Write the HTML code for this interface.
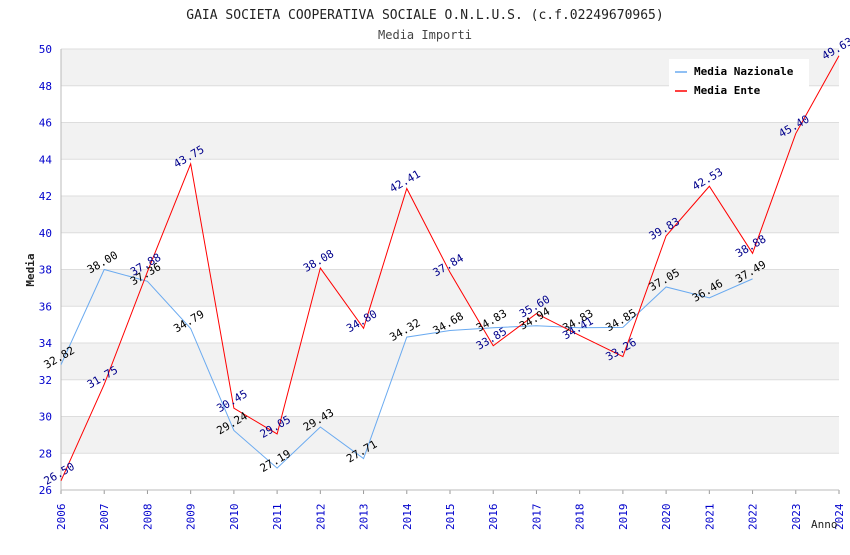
<!DOCTYPE html>
<html><head><meta charset="utf-8"><style>
body{margin:0;background:#fff}
svg text{font-family:"DejaVu Sans Mono","Liberation Mono",monospace}
</style></head><body>
<svg id="chart" width="850" height="550" xmlns="http://www.w3.org/2000/svg">
<text x="425" y="19" text-anchor="middle" font-size="13" fill="#222">GAIA SOCIETA COOPERATIVA SOCIALE O.N.L.U.S. (c.f.02249670965)</text>
<text x="425" y="39" text-anchor="middle" font-size="12" fill="#444">Media Importi</text>
<g id="bands"></g><g id="grid"></g><g id="axes"></g><g id="series"></g><g id="labels"></g>
<text transform="translate(34,270) rotate(-90)" text-anchor="middle" font-size="11" font-weight="bold" fill="#222">Media</text>
<text x="811" y="528" font-size="11" fill="#222">Anno</text>
<g>
<rect x="669" y="59" width="140" height="42" fill="#fff"/>
<line x1="675" y1="72" x2="687" y2="72" stroke="#6aaaf0" stroke-width="1.5"/>
<text x="694" y="75" font-size="11" font-weight="bold" fill="#000">Media Nazionale</text>
<line x1="675" y1="91" x2="687" y2="91" stroke="#ff0000" stroke-width="1.5"/>
<text x="694" y="94" font-size="11" font-weight="bold" fill="#000">Media Ente</text>
</g>
</svg>
<script>
const years=[2006,2007,2008,2009,2010,2011,2012,2013,2014,2015,2016,2017,2018,2019,2020,2021,2022,2023,2024];
const nazionale=[32.82,38.00,37.36,34.79,29.24,27.19,29.43,27.71,34.32,34.68,34.83,34.94,34.83,34.85,37.05,36.46,37.49];
const ente=[26.50,31.75,37.88,43.75,30.45,29.05,38.08,34.80,42.41,37.84,33.85,35.60,34.41,33.26,39.83,42.53,38.88,45.40,49.63];
const yTicks=[26,28,30,32,34,36,38,40,42,44,46,48,50];
const X0=61,X1=839,Y0=490,Y1=49;
const xs=y=>X0+(y-years[0])/(years[years.length-1]-years[0])*(X1-X0);
const ys=v=>Y0-(v-26)/(50-26)*(Y0-Y1);
const NS="http://www.w3.org/2000/svg";
function mk(p,t,a){const e=document.createElementNS(NS,t);for(const k in a)e.setAttribute(k,a[k]);document.getElementById(p).appendChild(e);return e;}
for(let i=0;i<yTicks.length-1;i++){
 if(yTicks[i]%4===0){const r=mk('bands','rect',{x:X0,y:ys(yTicks[i+1]),width:X1-X0,height:ys(yTicks[i])-ys(yTicks[i+1]),fill:'#f2f2f2'});
 
 }
}
yTicks.forEach(t=>{
 const l=mk('grid','line',{x1:X0,x2:X1,y1:ys(t),y2:ys(t),stroke:'#ddd'});
 
 
 const tx=mk('axes','text',{x:X0-9,y:ys(t)+4,'text-anchor':'end','font-size':11,fill:'#00c'});tx.textContent=t;
 
 
});
years.forEach(y=>{
 const l=mk('grid','line',{x1:xs(y),x2:xs(y),y1:Y0,y2:Y0+4,stroke:'#999'});
 
 
 const tx=mk('axes','text',{transform:`translate(${xs(y)+4},${Y0+40}) rotate(-90)`,'font-size':11,fill:'#00c'});tx.textContent=y;
 
 
});
const ax=mk('axes','path',{d:`M${X0},${Y1}V${Y0}H${X1}`,stroke:'#bbb',fill:'none'});


function series(vals,color,lc,name){
 const d=vals.map((v,i)=>(i?'L':'M')+xs(years[i])+','+ys(v)).join('');
 const p=mk('series','path',{d,stroke:color,fill:'none','stroke-width':1});
 
 
 vals.forEach((v,i)=>{
  const x=xs(years[i]),y=ys(v);
  const t=mk('labels','text',{transform:`translate(${x},${y-4}) rotate(-30)`,'text-anchor':'middle','font-size':11,fill:lc});
  t.textContent=v.toFixed(2);
  
  
 });
}
series(nazionale,'#6aaaf0','#000','line-media-nazionale');
series(ente,'#ff0000','#00008b','line-media-ente');
</script>
</body></html>
